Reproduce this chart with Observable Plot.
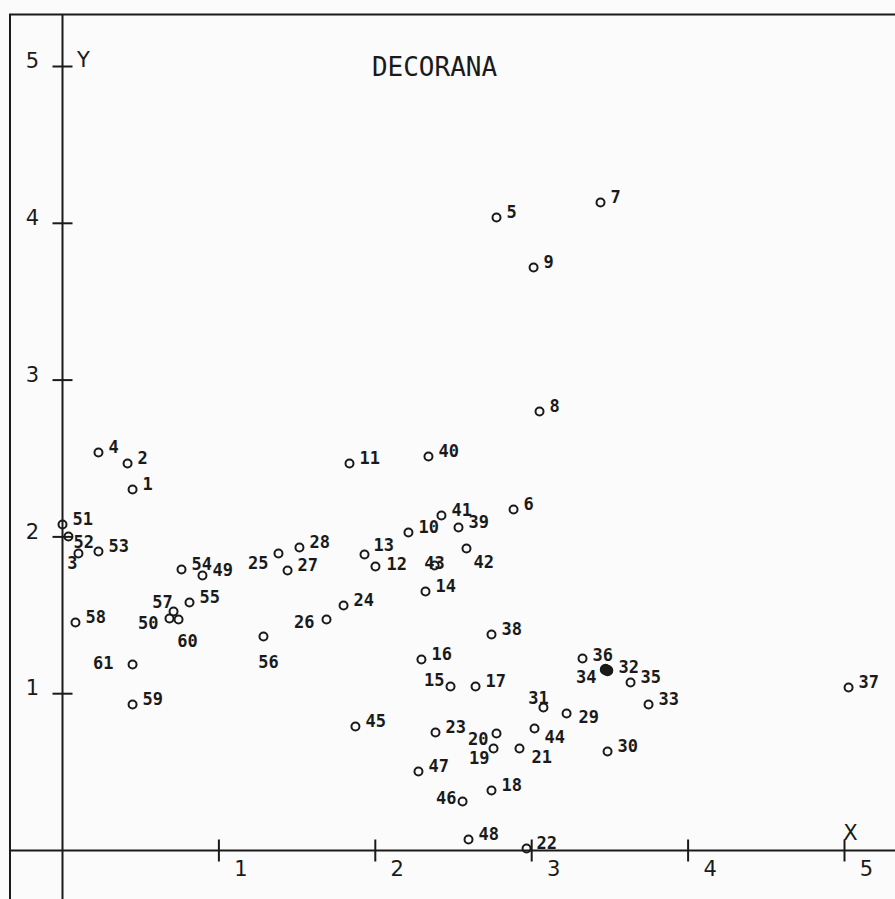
<!DOCTYPE html>
<html><head><meta charset="utf-8">
<script src="https://cdn.jsdelivr.net/npm/d3@7"></script>
<script src="https://cdn.jsdelivr.net/npm/@observablehq/plot@0.6"></script>
<style>
html,body{margin:0;padding:0;background:#fbfbfb;}
#chart svg{display:block;}
</style></head><body><div id="chart"></div>
<script>
// ---- data ----
const ids = [1,2,3,4,5,6,7,8,9,10,11,12,13,14,15,16,17,18,19,20,21,22,23,24,25,26,27,28,29,30,31,32,33,34,35,36,37,38,39,40,41,42,43,44,45,46,47,48,49,50,51,52,53,54,55,56,57,58,59,60,61];
const xValues = [0.448,0.416,0.102,0.230,2.775,2.884,3.440,3.050,3.012,2.212,
                 1.835,2.001,1.931,2.321,2.481,2.295,2.641,2.743,2.756,2.775,
                 2.922,2.967,2.385,1.797,1.381,1.688,1.439,1.515,3.223,3.485,
                 3.075,3.485,3.747,3.472,3.632,3.325,5.026,2.743,2.532,2.340,
                 2.423,2.583,2.379,3.018,1.873,2.558,2.276,2.596,0.895,0.684,
                 0.000,0.038,0.230,0.761,0.812,1.285,0.710,0.083,0.448,0.742,0.448];
const yValues = [2.302,2.468,1.894,2.538,4.037,2.175,4.133,2.800,3.718,2.028,
                 2.468,1.811,1.888,1.652,1.046,1.218,1.046,0.383,0.651,0.746,
                 0.651,0.013,0.753,1.563,1.894,1.473,1.786,1.932,0.874,0.631,
                 0.912,1.148,0.931,1.154,1.071,1.224,1.040,1.378,2.060,2.513,
                 2.136,1.926,1.818,0.778,0.791,0.312,0.504,0.070,1.754,1.480,
                 2.079,2.003,1.907,1.792,1.582,1.365,1.524,1.454,0.931,1.473,1.186];
const xTicks = [1,2,3,4,5];
const yTicks = [1,2,3,4,5];
const title = "DECORANA";
const xName = "X";
const yName = "Y";

const points = ids.map((id, i) => ({id, x: xValues[i], y: yValues[i]}));

// ---- style / layout ----
const ink = "#1a1a1a";
const W = 895, H = 899;
const ox = 62, oy = 850, ux = 156.4, uy = 156.8;
const labelFont = "DejaVu Sans Mono";

// label placement offsets (px) relative to the point
const place = {
  3: [-6, 10, "middle"], 12: [11, -2, "start"], 13: [9, -9, "start"], 15: [-6, -6, "end"], 19: [-4, 10, "end"], 20: [-8, 6, "end"],
  21: [12, 9, "start"], 25: [-10, 10, "end"], 26: [-12, 3, "end"], 29: [12, 4, "start"],
  31: [-5, -9, "middle"], 34: [-9, 8, "end"], 42: [7, 14, "start"], 43: [0, -2, "middle"],
  44: [10, 9, "start"], 46: [-6, -3, "end"], 50: [-11, 5, "end"], 52: [5, 6, "start"],
  56: [5, 26, "middle"], 57: [-11, -9, "middle"], 60: [9, 22, "middle"], 61: [-19, -1, "end"],
  32: [11, -3, "start"], 36: [10, -3, "start"]
};
const defaultPlace = [10, -5, "start"];
const groups = d3.group(points, d => (place[d.id] || defaultPlace).join("|"));
const labelMarks = [...groups].map(([key, arr]) => {
  const [dx, dy, anchor] = key.split("|");
  return Plot.text(arr, {x: "x", y: "y", text: d => String(d.id), dx: +dx, dy: +dy,
    textAnchor: anchor, fill: ink, fontSize: 17, fontWeight: "bold", fontFamily: labelFont});
});

const filledIds = new Set([32, 34]);

const vTick = {draw(ctx, size) { const r = Math.sqrt(size / Math.PI); ctx.moveTo(0, -r); ctx.lineTo(0, r); }};
const hTick = {draw(ctx, size) { const r = Math.sqrt(size / Math.PI); ctx.moveTo(-r, 0); ctx.lineTo(r, 0); }};

const chart = Plot.plot({
  width: W, height: H,
  marginLeft: 0, marginRight: 0, marginTop: 0, marginBottom: 0,
  style: {background: "#fbfbfb", color: ink},
  x: {domain: [-ox / ux, (W - ox) / ux], axis: null},
  y: {domain: [-(H - oy) / uy, oy / uy], axis: null},
  marks: [
    Plot.frame({stroke: ink, strokeWidth: 2, insetLeft: 9.5, insetTop: 14, insetRight: -5, insetBottom: -5}),
    Plot.ruleX([0], {stroke: ink, strokeWidth: 2, insetTop: 14}),
    Plot.ruleY([0], {stroke: ink, strokeWidth: 2, insetLeft: 9.5}),
    Plot.dot(xTicks, {x: d => d, y: () => 0, symbol: vTick, r: 11, stroke: ink, strokeWidth: 2, fill: "none"}),
    Plot.dot(yTicks, {x: () => 0, y: d => d, symbol: hTick, r: 10, stroke: ink, strokeWidth: 2, fill: "none"}),
    Plot.text(xTicks, {x: d => d, y: () => 0, text: d => String(d), dx: 22, dy: 19, fill: ink, fontSize: 21, fontFamily: "DejaVu Sans"}),
    Plot.text(yTicks, {x: () => 0, y: d => d, text: d => String(d), dx: -30, dy: -5, fill: ink, fontSize: 21, fontFamily: "DejaVu Sans"}),
    Plot.text([yName], {x: () => 0, y: () => d3.max(yTicks), text: d => d, dx: 21, dy: -6, fill: ink, fontSize: 21, fontFamily: "DejaVu Sans"}),
    Plot.text([xName], {x: () => d3.max(xTicks), y: () => 0, text: d => d, dx: 6, dy: -17, fill: ink, fontSize: 21, fontFamily: "DejaVu Sans"}),
    Plot.text([title], {frameAnchor: "top-left", lineAnchor: "middle", dx: 434, dy: 67, text: d => d, textAnchor: "middle",
      fill: ink, fontSize: 26, fontFamily: labelFont, letterSpacing: "1.6px"}),
    Plot.dot(points.filter(d => !filledIds.has(d.id)), {x: "x", y: "y", r: 4, stroke: ink, strokeWidth: 2, fill: "none"}),
    Plot.dot(points.filter(d => filledIds.has(d.id)), {x: "x", y: "y", r: 5, stroke: ink, strokeWidth: 1.5, fill: ink}),
    ...labelMarks
  ]
});
document.getElementById("chart").append(chart);
</script>
</body></html>
